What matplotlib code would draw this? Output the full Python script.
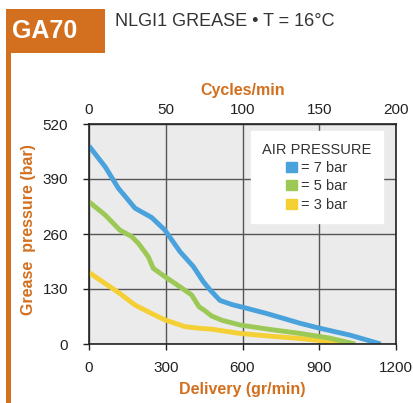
import matplotlib
matplotlib.use("Agg")
import matplotlib.pyplot as plt
from matplotlib.patches import Rectangle, Patch

plt.rcParams['font.family'] = ['Liberation Sans', 'DejaVu Sans']

# curves (delivery gr/min -> pressure bar)
blue_x = [0, 63, 115, 180, 245, 297, 356, 408, 447, 473, 512, 560, 600, 695, 825, 890, 1020, 1140]
blue_y = [468, 419, 368, 321, 299, 269, 218, 183, 147, 128, 103, 93, 87, 72, 49, 39, 21, 0]
green_x = [0, 63, 121, 167, 193, 232, 251, 297, 356, 401, 430, 450, 480, 520, 590, 700, 825, 940, 1040]
green_y = [336, 305, 269, 254, 238, 206, 179, 159, 135, 116, 88, 80, 66, 56, 45, 35, 25, 14, 0]
yellow_x = [0, 63, 115, 180, 245, 297, 375, 434, 480, 590, 700, 825, 920, 1000]
yellow_y = [169, 143, 122, 92, 72, 57, 41, 37, 35, 25, 19, 13, 7, 0]

labels = ['= 7 bar', '= 5 bar', '= 3 bar']
colors = ['#4aa2dc', '#9cc955', '#f4d035']
xticks = [0, 300, 600, 900, 1200]
yticks = [0, 130, 260, 390, 520]
cycle_ticks = [0, 50, 100, 150, 200]
orange = '#d2701f'

W, H = 413, 403
fig = plt.figure(figsize=(W / 100, H / 100), dpi=100)

# header box and side bar
fig.add_artist(Rectangle((6 / W, 1 - 53 / H), 99 / W, 44 / H, transform=fig.transFigure,
                         color=orange, lw=0))
fig.add_artist(Rectangle((6 / W, 0), 5 / W, 1 - 53 / H, transform=fig.transFigure,
                         color=orange, lw=0))
fig.text(12 / W, 1 - 31 / H, 'GA70', color='white', fontsize=18, fontweight='bold',
         va='center', ha='left')
fig.text(115 / W, 1 - 21 / H, 'NLGI1 GREASE \u2022 T = 16\u00b0C', color='#333333',
         fontsize=13, va='center', ha='left')

ax = fig.add_axes([89 / W, 59 / H, 307 / W, 220 / H])
ax.set_facecolor('#ebebeb')

for xs, ys, c in [(yellow_x, yellow_y, colors[2]), (green_x, green_y, colors[1]),
                  (blue_x, blue_y, colors[0])]:
    ax.plot(xs, ys, color=c, lw=3.5, solid_capstyle='butt', solid_joinstyle='round')

ax.set_xlim(0, 1200)
ax.set_ylim(0, 520)
ax.set_xticks(xticks)
ax.set_yticks(yticks)
ax.grid(True, color='#555555', lw=1)
ax.set_axisbelow(True)
for s in ax.spines.values():
    s.set_color('#222222')
    s.set_linewidth(1.2)
ax.tick_params(direction='out', length=4, width=1, colors='#222222', labelsize=11)
ax.tick_params(axis='y', pad=11)
ax.tick_params(axis='x', pad=8)

ax.set_xlabel('Delivery (gr/min)', color=orange, fontsize=11.5, fontweight='bold', labelpad=5)
ax.set_ylabel('Grease  pressure (bar)', color=orange, fontsize=11.5, fontweight='bold')
ax.yaxis.set_label_coords(-0.172, 0.52)

top = ax.secondary_xaxis('top', functions=(lambda x: x / 6, lambda c: c * 6))
top.set_xticks(cycle_ticks)
top.tick_params(length=0, labelsize=11, pad=5, colors='#222222')
top.set_xlabel('Cycles/min', color=orange, fontsize=11.5, fontweight='bold', labelpad=6)

handles = [Patch(color=c) for c in colors]
leg = ax.legend(handles, labels, title='AIR PRESSURE', loc='upper right',
                bbox_to_anchor=(0.958, 0.968), frameon=True, fancybox=False,
                framealpha=1, edgecolor='white', facecolor='white',
                fontsize=10.5, title_fontsize=10.5, handlelength=0.7, handleheight=0.7,
                handletextpad=0.3, labelspacing=0.3, borderpad=0.8, borderaxespad=0)
for t in leg.get_texts():
    t.set_color('#333333')
leg.get_title().set_color('#333333')

fig.savefig('out.png', dpi=100)
